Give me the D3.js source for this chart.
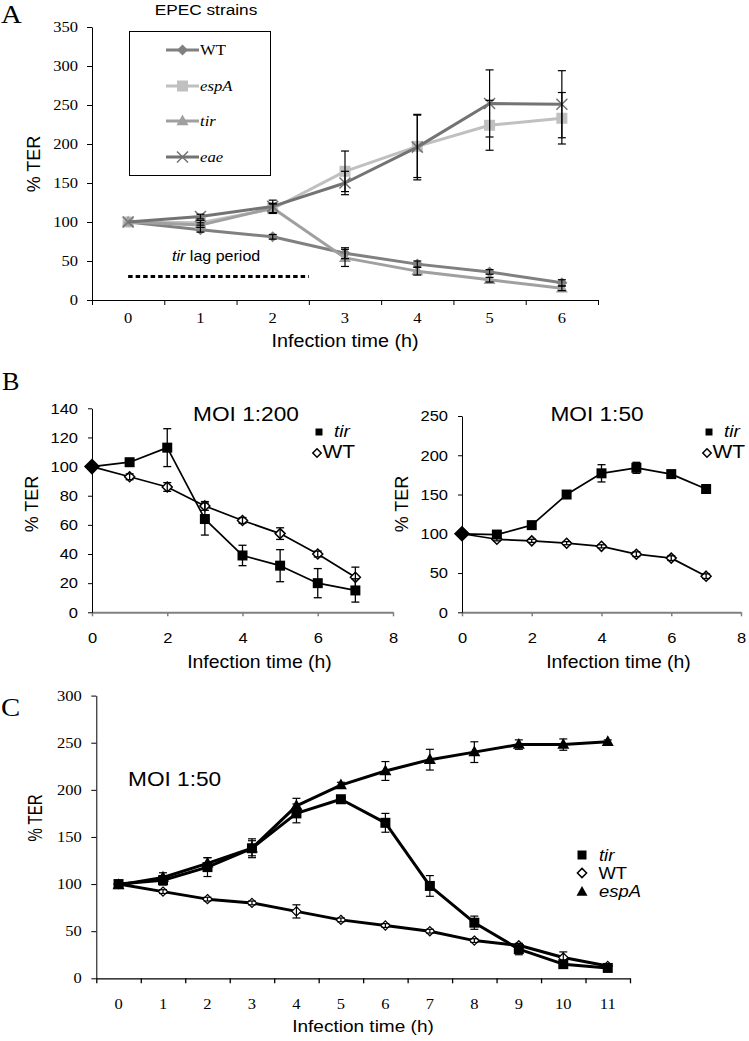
<!DOCTYPE html>
<html><head><meta charset="utf-8">
<script src="https://cdn.jsdelivr.net/npm/d3@7"></script>
<style>body{margin:0;background:#fff}</style>
</head><body>
<svg id="c" width="749" height="1041"></svg>
<script>
// ---------------- DATA ----------------
// Panel A
const A_hours = ["0","1","2","3","4","5","6"];
const A_yTicks = [0,50,100,150,200,250,300,350];
const A_WT = [100, 90, 81, 60, 46, 36, 22];
const A_WT_err = [0, 3, 3, 7, 4, 3, 4];
const A_espA = [100, 99, 117, 165, 197, 224, 233];
const A_espA_err = [0, 3, 6, 26, 40, 32, 33];
const A_tir = [100, 96, 118, 54, 37, 26, 15];
const A_tir_err = [0, 3, 6, 11, 5, 3, 3];
const A_eae = [100, 107, 120, 150, 196, 252, 251];
const A_eae_err = [0, 3, 8, 15, 42, 43, 43];
const A_names = ["WT","espA","tir","eae"];
// Panel B left (MOI 1:200)
const B_hours = [0,1,2,3,4,5,6,7];
const BL_xTicks = [0,2,4,6,8];
const BL_yTicks = [0,20,40,60,80,100,120,140];
const BL_tir = [100, 103, 113, 64, 39, 32, 20, 15];
const BL_tir_err = [0, 2, 13, 11, 7, 11, 10, 8];
const BL_WT = [100, 93, 86, 73, 63, 54, 40, 24];
const BL_WT_err = [0, 2, 3, 3, 2, 4, 2, 7];
// Panel B right (MOI 1:50)
const BR_yTicks = [0,50,100,150,200,250];
const BR_tir = [100, 99, 111, 150, 177, 184, 176, 157];
const BR_tir_err = [0, 3, 3, 3, 11, 7, 3, 3];
const BR_WT = [100, 93, 91, 88, 84, 74, 69, 46];
const BR_WT_err = [0, 2, 2, 2, 2, 3, 3, 3];
// Panel C
const C_hours = ["0","1","2","3","4","5","6","7","8","9","10","11"];
const C_yTicks = [0,50,100,150,200,250,300];
const C_tir = [100, 104, 118, 138, 175, 190, 165, 98, 59, 31, 15, 11];
const C_tir_err = [0, 5, 10, 8, 10, 4, 10, 11, 7, 6, 3, 2];
const C_WT = [100, 92, 84, 80, 71, 62, 56, 50, 40, 35, 22, 13];
const C_WT_err = [0, 2, 2, 2, 7, 2, 2, 2, 2, 2, 6, 2];
const C_espA = [99, 107, 122, 138, 183, 205, 220, 232, 240, 248, 248, 251];
const C_espA_err = [0, 5, 6, 10, 8, 3, 10, 11, 11, 5, 6, 2];

// ---------------- HELPERS ----------------
const SERIF = "'Liberation Serif','Times New Roman',serif";
const SANS = "'Liberation Sans',Arial,sans-serif";
const svg = d3.select("#c");

function txt(parent, x, y, s, o = {}) {
  const t = parent.append("text")
    .attr("transform", `translate(${x},${y})${o.rot ? ` rotate(${o.rot})` : ""} scale(${o.sx || 1},${o.sy || 1})`)
    .attr("font-family", o.family || SANS).attr("font-size", o.size || 14)
    .attr("text-anchor", o.anchor || "start").attr("fill", "#000");
  if (o.italic) t.attr("font-style", "italic");
  if (Array.isArray(s)) s.forEach(p => t.append("tspan").text(p.t).attr("font-style", p.i ? "italic" : null));
  else t.text(s);
  return t;
}
const diamond = r => `M0,${-r}L${r},0L0,${r}L${-r},0Z`;
const square = s => `M${-s/2},${-s/2}h${s}v${s}h${-s}Z`;
const tri = w => `M0,${-w*0.55}L${w/2},${w*0.35}L${-w/2},${w*0.35}Z`;
const cross = r => `M${-r},${-r}L${r},${r}M${-r},${r}L${r},${-r}`;

function series(g, xs, ys, xf, y, st) {
  const line = d3.line().x((d, i) => xf(xs[i])).y(d => y(d));
  g.append("path").datum(ys).attr("d", line).attr("fill", "none")
    .attr("stroke", st.color).attr("stroke-width", st.lw).attr("stroke-linejoin", "round");
  g.selectAll(null).data(ys).join("path")
    .attr("transform", (d, i) => `translate(${xf(xs[i])},${y(d)})`)
    .attr("d", (d, i) => st.shape(i))
    .attr("fill", (d, i) => st.fill(i))
    .attr("stroke", st.mstroke || "none").attr("stroke-width", st.msw || 0);
}
function errbars(g, xs, ys, es, xf, y, cap, lw) {
  ys.forEach((v, i) => {
    const e = es[i]; if (!e) return;
    const cx = xf(xs[i]), y1 = y(v - e), y2 = y(v + e);
    g.append("line").attr("x1", cx).attr("x2", cx).attr("y1", y1).attr("y2", y2).attr("stroke", "#000").attr("stroke-width", lw);
    [y1, y2].forEach(yy => g.append("line").attr("x1", cx - cap/2).attr("x2", cx + cap/2).attr("y1", yy).attr("y2", yy).attr("stroke", "#000").attr("stroke-width", lw));
  });
}
function leftAxis(g, y, ticks, x0, o) {
  const ax = g.append("g").attr("transform", `translate(${x0},0)`)
    .call(d3.axisLeft(y).tickValues(ticks).tickSize(o.tick).tickSizeOuter(0));
  ax.select(".domain").attr("stroke", o.color || "#000").attr("stroke-width", o.lw || 1);
  ax.selectAll(".tick line").attr("stroke", o.color || "#000").attr("stroke-width", o.lw || 1);
  ax.selectAll("text").attr("font-family", o.family).attr("font-size", o.size).attr("fill", "#000")
    .attr("x", -o.pad / o.sx).attr("transform", `scale(${o.sx},1)`);
  return ax;
}

// ---------------- PANEL A ----------------
const gA = svg.append("g");
const xA = d3.scaleBand().domain(A_hours).range([92, 598]);
const cA = h => xA(h) + xA.bandwidth() / 2;
const yA = d3.scaleLinear().domain([0, 350]).range([300, 27]);
leftAxis(gA, yA, A_yTicks, 92, {tick: 5, pad: 14, family: SERIF, size: 14, sx: 1.18});
const xAl = d3.scaleLinear().domain([0, A_hours.length]).range(xA.range());
const axA = gA.append("g").attr("transform", "translate(0,300)")
  .call(d3.axisBottom(xAl).ticks(A_hours.length).tickFormat("").tickSize(5).tickSizeOuter(0));
axA.selectAll("line,path").attr("stroke", "#000");
const axAl = gA.append("g").attr("transform", "translate(0,300)")
  .call(d3.axisBottom(xA).tickSize(0));
axAl.select(".domain").remove();
axAl.selectAll("text").attr("font-family", SERIF).attr("font-size", 14).attr("fill", "#000")
  .attr("y", 23).attr("dy", 0).attr("transform", "scale(1.18,1)");
axAl.selectAll(".tick").attr("transform", d => `translate(${cA(d)},0)`);

const A_styles = {
  WT:   {color: "#808080", shape: () => diamond(5.5), fill: () => "#808080", lw: 3},
  espA: {color: "#c0c0c0", shape: () => square(11), fill: () => "#c0c0c0", lw: 3},
  tir:  {color: "#a0a0a0", shape: () => tri(12), fill: () => "#a0a0a0", lw: 3},
  eae:  {color: "#737373", shape: () => cross(5.5), fill: () => "none", mstroke: "#737373", msw: 1.5, lw: 3}
};
const A_vals = {WT: [A_WT, A_WT_err], espA: [A_espA, A_espA_err], tir: [A_tir, A_tir_err], eae: [A_eae, A_eae_err]};
A_names.forEach(n => series(gA, A_hours, A_vals[n][0], cA, yA, A_styles[n]));
A_names.forEach(n => errbars(gA, A_hours, A_vals[n][0], A_vals[n][1], cA, yA, 8, 1.2));

// dotted lag line
gA.append("line").attr("x1", cA("0")).attr("x2", xA("3")).attr("y1", yA(30)).attr("y2", yA(30))
  .attr("stroke", "#000").attr("stroke-width", 3).attr("stroke-dasharray", "4.5,3");
txt(gA, 172, 261, [{t: "tir", i: true}, {t: " lag period"}], {size: 15, sx: 1.07});

// legend box
gA.append("rect").attr("x", 129.5).attr("y", 31.5).attr("width", 141).attr("height", 144)
  .attr("fill", "#fff").attr("stroke", "#000").attr("stroke-width", 1);
const legY = [50, 86, 121, 157];
A_names.forEach((n, i) => {
  const st = A_styles[n];
  gA.append("line").attr("x1", 166).attr("x2", 199).attr("y1", legY[i]).attr("y2", legY[i]).attr("stroke", st.color).attr("stroke-width", 3);
  gA.append("path").attr("transform", `translate(182.5,${legY[i]})`).attr("d", st.shape(0)).attr("fill", st.fill(0))
    .attr("stroke", st.mstroke || "none").attr("stroke-width", st.msw || 0);
  txt(gA, 200, legY[i] + 5, n, {family: SERIF, size: 14.5, sx: 1.15, italic: n !== "WT"});
});
txt(gA, 206, 15, "EPEC strains", {size: 15, sx: 1.15, anchor: "middle"});
txt(gA, 345, 347, "Infection time (h)", {size: 17.5, sx: 1.13, anchor: "middle"});
txt(gA, 40, 164, "% TER", {size: 18, rot: -90, anchor: "middle"});
txt(gA, 1, 23, "A", {family: SERIF, size: 25, sx: 1.15});

// ---------------- PANEL B ----------------
function panelB(x0, x1, yMax, yTicks, tir, tirErr, wt, wtErr, title, titleX, legX) {
  const g = svg.append("g");
  const x = d3.scaleLinear().domain([0, 8]).range([x0, x1]);
  const y = d3.scaleLinear().domain([0, yMax]).range([612.3, 408.3 + (yMax === 250 ? 7.7 : 0)]);
  const ax = g.append("g").attr("transform", "translate(0,612.3)")
    .call(d3.axisBottom(x).tickValues(BL_xTicks).tickSize(4).tickSizeOuter(0));
  ax.select(".domain").attr("stroke", "#808080").attr("stroke-width", 2);
  ax.selectAll(".tick line").attr("stroke", "#808080").attr("stroke-width", 1.5);
  ax.selectAll("text").attr("font-family", SANS).attr("font-size", 15).attr("fill", "#000")
    .attr("y", 31).attr("dy", 0).attr("transform", "scale(1.1,1)");
  leftAxis(g, y, yTicks, x0, {tick: 4, pad: 14, family: SANS, size: 15, sx: 1.1});
  series(g, B_hours, wt, x, y, {color: "#000", lw: 1.7, shape: i => i === 0 ? diamond(7) : diamond(5),
    fill: i => i === 0 ? "#000" : "#fff", mstroke: "#000", msw: 1.5});
  series(g, B_hours, tir, x, y, {color: "#000", lw: 1.7, shape: i => i === 0 ? "" : square(10), fill: () => "#000"});
  errbars(g, B_hours, tir, tirErr, x, y, 8, 1.3);
  errbars(g, B_hours, wt, wtErr, x, y, 8, 1.3);
  // legend
  g.append("path").attr("transform", `translate(${legX + 3},432)`).attr("d", square(7)).attr("fill", "#000");
  txt(g, legX + 18, 437, "tir", {size: 17, sx: 1.12, italic: true});
  g.append("path").attr("transform", `translate(${legX + 1},453)`).attr("d", diamond(4.2)).attr("fill", "#fff").attr("stroke", "#000").attr("stroke-width", 1.5);
  txt(g, legX + 6.5, 458, "WT", {size: 17.5, sx: 1.2});
  txt(g, titleX, 421, title, {size: 21, sx: 1.08, anchor: "middle"});
  txt(g, (x0 + x1) / 2 + 17, 668, "Infection time (h)", {size: 18, sx: 1.08, anchor: "middle"});
  txt(g, x0 - 54, 504, "% TER", {size: 18, rot: -90, anchor: "middle"});
  return g;
}
panelB(92, 393, 140, BL_yTicks, BL_tir, BL_tir_err, BL_WT, BL_WT_err, "MOI 1:200", 246, 316);
panelB(462, 741, 250, BR_yTicks, BR_tir, BR_tir_err, BR_WT, BR_WT_err, "MOI 1:50", 597, 706);
txt(svg, 2, 390, "B", {family: SERIF, size: 25, sx: 1.05});

// ---------------- PANEL C ----------------
const gC = svg.append("g");
const xC = d3.scaleBand().domain(C_hours).range([96.3, 630]);
const cC = h => xC(h) + xC.bandwidth() / 2;
const yC = d3.scaleLinear().domain([0, 300]).range([978.3, 695.6]);
leftAxis(gC, yC, C_yTicks, 96.3, {tick: 5, pad: 14.6, family: SERIF, size: 14, sx: 1.18});
const xCl = d3.scaleLinear().domain([0, C_hours.length]).range(xC.range());
const axC = gC.append("g").attr("transform", "translate(0,978.3)")
  .call(d3.axisBottom(xCl).ticks(C_hours.length).tickFormat("").tickSize(5).tickSizeOuter(0));
axC.selectAll("line,path").attr("stroke", "#000").attr("stroke-width", 1.3);
const axCl = gC.append("g").attr("transform", "translate(0,978.3)").call(d3.axisBottom(xC).tickSize(0));
axCl.select(".domain").remove();
axCl.selectAll("text").attr("font-family", SERIF).attr("font-size", 14).attr("fill", "#000")
  .attr("y", 31).attr("dy", 0).attr("transform", "scale(1.18,1)");
axCl.selectAll(".tick").attr("transform", d => `translate(${cC(d)},0)`);

series(gC, C_hours, C_WT, cC, yC, {color: "#000", lw: 3, shape: () => diamond(4.6), fill: () => "#fff", mstroke: "#000", msw: 1.2});
series(gC, C_hours, C_espA, cC, yC, {color: "#000", lw: 3, shape: () => tri(12), fill: () => "#000"});
series(gC, C_hours, C_tir, cC, yC, {color: "#000", lw: 3, shape: () => square(10), fill: () => "#000"});
errbars(gC, C_hours, C_tir, C_tir_err, cC, yC, 8, 1.2);
errbars(gC, C_hours, C_WT, C_WT_err, cC, yC, 8, 1.2);
errbars(gC, C_hours, C_espA, C_espA_err, cC, yC, 8, 1.2);

gC.append("path").attr("transform", "translate(582,855)").attr("d", square(9)).attr("fill", "#000");
txt(gC, 599, 860.5, "tir", {size: 16, sx: 1.15, italic: true});
gC.append("path").attr("transform", "translate(582,873)").attr("d", diamond(4.6)).attr("fill", "#fff").attr("stroke", "#000").attr("stroke-width", 1.5);
txt(gC, 598.5, 878.5, "WT", {size: 16, sx: 1.15});
gC.append("path").attr("transform", "translate(582,892)").attr("d", tri(11)).attr("fill", "#000");
txt(gC, 599, 897, "espA", {size: 16, sx: 1.15, italic: true});
txt(gC, 128, 786, "MOI 1:50", {size: 21, sx: 1.08});
txt(gC, 363, 1032, "Infection time (h)", {size: 17, sx: 1.12, anchor: "middle"});
txt(gC, 42, 818, "% TER", {size: 15, rot: -90, anchor: "middle", sy: 1.3});
txt(svg, 1, 716, "C", {family: SERIF, size: 25, sx: 1.15});
</script>
</body></html>
